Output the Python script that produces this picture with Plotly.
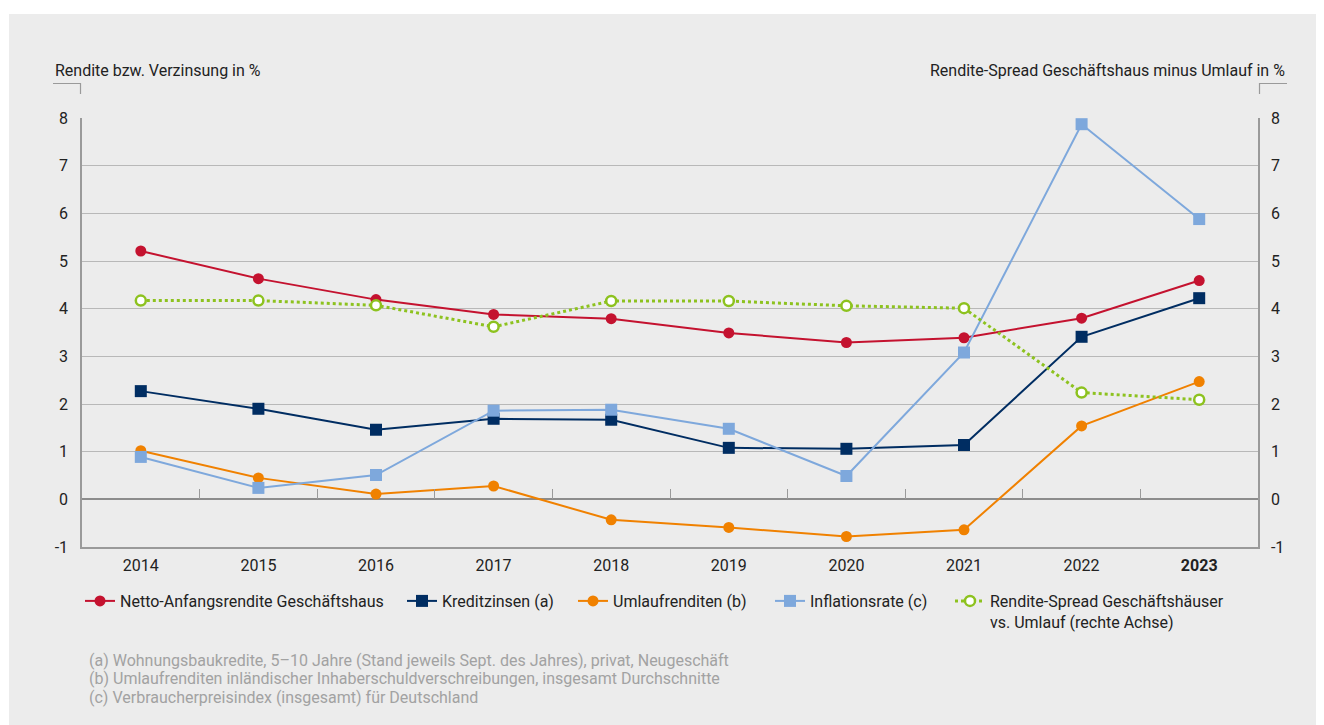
import plotly.graph_objects as go

years = ["2014", "2015", "2016", "2017", "2018", "2019", "2020", "2021", "2022", "2023"]
year_labels = ["2014", "2015", "2016", "2017", "2018", "2019", "2020", "2021", "2022", "<b>2023</b>"]

netto = [5.21, 4.63, 4.19, 3.88, 3.79, 3.49, 3.29, 3.39, 3.80, 4.59]
kredit = [2.27, 1.90, 1.46, 1.69, 1.67, 1.08, 1.06, 1.14, 3.41, 4.22]
umlauf = [1.02, 0.45, 0.11, 0.28, -0.43, -0.59, -0.78, -0.64, 1.54, 2.47]
inflation = [0.89, 0.24, 0.51, 1.86, 1.88, 1.48, 0.49, 3.08, 7.87, 5.88]
spread = [4.17, 4.17, 4.07, 3.62, 4.16, 4.16, 4.06, 4.01, 2.24, 2.09]

y_ticks = [-1, 0, 1, 2, 3, 4, 5, 6, 7, 8]
y_tick_labels = ["-1", "0", "1", "2", "3", "4", "5", "6", "7", "8"]

left_title = "Rendite bzw. Verzinsung in %"
right_title = "Rendite-Spread Geschäftshaus minus Umlauf in %"
footnotes = [
    "(a) Wohnungsbaukredite, 5–10 Jahre (Stand jeweils Sept. des Jahres), privat, Neugeschäft",
    "(b) Umlaufrenditen inländischer Inhaberschuldverschreibungen, insgesamt Durchschnitte",
    "(c) Verbraucherpreisindex (insgesamt) für Deutschland",
]

RED = "#c4122f"
NAVY = "#002d62"
ORANGE = "#f08100"
LBLUE = "#7ea8dc"
GREEN = "#8dc21f"
BG = "#ececec"
GRID = "#b8b8b8"
AXIS = "#9a9a9a"
FONT = "Roboto"
FS = 16

# page body has an 8px margin; figure sits at (8, 8) on the 1324x725 screen
OFF = 8
W, H = 1324 - OFF, 725 - OFF
L, R, T, B = 82, 1258, 118, 547  # plot area in screen pixels


def px(x):
    return (x - L) / (R - L)


def py(y):
    return (B - y) / (B - T)


fig = go.Figure()

fig.add_trace(go.Scatter(
    x=years, y=netto, name="Netto-Anfangsrendite Geschäftshaus",
    mode="lines+markers", line=dict(color=RED, width=2),
    marker=dict(symbol="circle", size=11, color=RED), legend="legend"))
fig.add_trace(go.Scatter(
    x=years, y=kredit, name="Kreditzinsen (a)",
    mode="lines+markers", line=dict(color=NAVY, width=2),
    marker=dict(symbol="square", size=12, color=NAVY), legend="legend2"))
fig.add_trace(go.Scatter(
    x=years, y=umlauf, name="Umlaufrenditen (b)",
    mode="lines+markers", line=dict(color=ORANGE, width=2),
    marker=dict(symbol="circle", size=11, color=ORANGE), legend="legend3"))
fig.add_trace(go.Scatter(
    x=years, y=inflation, name="Inflationsrate (c)",
    mode="lines+markers", line=dict(color=LBLUE, width=2),
    marker=dict(symbol="square", size=12, color=LBLUE), legend="legend4"))
fig.add_trace(go.Scatter(
    x=years, y=spread, name="Rendite-Spread Geschäftshäuser<br>vs. Umlauf (rechte Achse)",
    mode="lines+markers", line=dict(color=GREEN, width=3, dash="dot"),
    marker=dict(symbol="circle", size=10, color="white", line=dict(color=GREEN, width=2.5)),
    yaxis="y2", legend="legend5"))

# invisible helper trace so the zero-line tick axis knows the categories
fig.add_trace(go.Scatter(x=years, y=[None] * len(years), xaxis="x2", showlegend=False,
                         hoverinfo="skip", mode="lines"))

legend_common = dict(orientation="h", yanchor="top", xanchor="left", valign="top",
                     bgcolor="rgba(0,0,0,0)", font=dict(family=FONT, size=FS, color="#222"),
                     itemclick=False)
leg_y = py(584)
fig.update_layout(
    legend=dict(x=px(80), y=leg_y, **legend_common),
    legend2=dict(x=px(402), y=leg_y, **legend_common),
    legend3=dict(x=px(573), y=leg_y, **legend_common),
    legend4=dict(x=px(770), y=leg_y, **legend_common),
    legend5=dict(x=px(950), y=leg_y, **legend_common),
)

fig.update_layout(
    width=W, height=H,
    margin=dict(l=L - OFF, r=1324 - R, t=T - OFF, b=725 - B, pad=0),
    paper_bgcolor="white", plot_bgcolor="rgba(0,0,0,0)",
    font=dict(family=FONT, size=FS, color="#222"),
    xaxis=dict(type="category", categoryorder="array", categoryarray=years,
               tickvals=years, ticktext=year_labels,
               range=[-0.5, len(years) - 0.5], showgrid=False,
               showline=True, linecolor=AXIS, linewidth=1.5, mirror=False,
               ticks="outside", ticklen=3, tickcolor="rgba(0,0,0,0)",
               tickfont=dict(family=FONT, size=FS, color="#222"), fixedrange=True),
    xaxis2=dict(type="category", categoryorder="array", categoryarray=years,
                overlaying="x", anchor="free", position=py(B - (B - T) / 9),
                range=[-0.5, len(years) - 0.5], tickson="boundaries",
                ticks="inside", ticklen=10, tickcolor=AXIS, tickwidth=1.2,
                showticklabels=False, showgrid=False, showline=False, fixedrange=True),
    yaxis=dict(range=[-1, 8], tickvals=y_ticks, ticktext=y_tick_labels,
               showgrid=True, gridcolor=GRID, gridwidth=1.3,
               zeroline=True, zerolinecolor="#8c8c8c", zerolinewidth=2.2,
               showline=True, linecolor=AXIS, linewidth=1.5,
               ticks="outside", ticklen=9, tickcolor="rgba(0,0,0,0)",
               tickfont=dict(family=FONT, size=FS, color="#222"), fixedrange=True),
    yaxis2=dict(range=[-1, 8], tickvals=y_ticks, ticktext=y_tick_labels,
                overlaying="y", side="right",
                showgrid=False, zeroline=False, showline=True, linecolor=AXIS, linewidth=1.5,
                ticks="outside", ticklen=8, tickcolor="rgba(0,0,0,0)",
                tickfont=dict(family=FONT, size=FS, color="#222"), fixedrange=True),
)

shapes = [
    dict(type="rect", xref="paper", yref="paper", x0=px(9), x1=px(1330), y0=py(730), y1=py(14),
         fillcolor=BG, line=dict(width=0), layer="below"),
    # axis-title brackets
    dict(type="path", xref="paper", yref="paper",
         path=f"M {px(53)},{py(83.5)} L {px(80.5)},{py(83.5)} L {px(80.5)},{py(94)}",
         line=dict(color=AXIS, width=1.2)),
    dict(type="path", xref="paper", yref="paper",
         path=f"M {px(1287)},{py(83.5)} L {px(1259.5)},{py(83.5)} L {px(1259.5)},{py(94)}",
         line=dict(color=AXIS, width=1.2)),
]
fig.update_layout(shapes=shapes)

annotations = [
    dict(text=left_title, xref="paper", yref="paper", x=px(53), y=py(70),
         xanchor="left", yanchor="middle", showarrow=False,
         font=dict(family=FONT, size=FS, color="#222")),
    dict(text=right_title, xref="paper", yref="paper", x=px(1287), y=py(70),
         xanchor="right", yanchor="middle", showarrow=False,
         font=dict(family=FONT, size=FS, color="#222")),
]
for i, t in enumerate(footnotes):
    annotations.append(dict(text=t, xref="paper", yref="paper", x=px(87), y=py(660 + 18.5 * i),
                            xanchor="left", yanchor="middle", showarrow=False,
                            font=dict(family=FONT, size=FS, color="#a2a2a2")))
fig.update_layout(annotations=annotations)

fig.write_html("out.html")
